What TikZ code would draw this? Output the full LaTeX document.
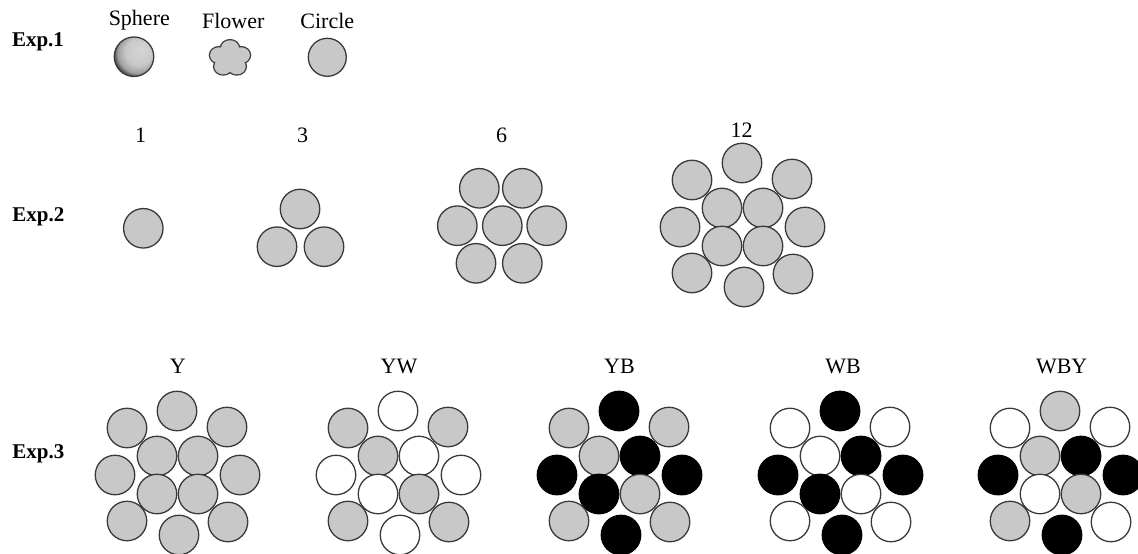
\documentclass[tikz,border=0pt]{standalone}
\usepackage{fontspec}
\setmainfont{Liberation Serif}
\definecolor{fillgray}{RGB}{200,200,200}
\definecolor{edgegray}{RGB}{58,58,58}
\pgfdeclareradialshading{sph}{\pgfpoint{10bp}{10bp}}{%
  color(0bp)=(fillgray!75!white); color(17bp)=(fillgray); color(25bp)=(fillgray!80!black);
  color(29bp)=(black!70); color(33bp)=(black); color(45bp)=(black)}
\tikzset{
  ball/.style={circle, minimum size=39.5pt, inner sep=0pt, line width=1.3pt, draw=edgegray},
  cg/.style={ball, fill=fillgray},
  cw/.style={ball, fill=white},
  ck/.style={ball, fill=black, draw=black},
  lab/.style={inner sep=0pt, font=\fontsize{22}{26}\selectfont},
  explab/.style={inner sep=0pt, font=\fontsize{21}{25}\selectfont\bfseries},
}
\newcommand{\clus}[4]{%
  \foreach [count=\i] \s in {#4}{%
    \pgfmathsetmacro{\dx}{{-1,-51,49,-21,20,-63,62,-21,20,-51,1,50}[\i-1]}%
    \pgfmathsetmacro{\dy}{{-64,-47,-48,-19,-19,0,0,19,19,46,60,47}[\i-1]}%
    \node[\s] (#1-\i) at (#2+\dx,#3+\dy) {};
  }%
}
\begin{document}
\begin{tikzpicture}[x=1pt,y=-1pt]
\useasboundingbox (0,0) rectangle (1138,554);
% Exp.1
\node[explab] (e1) at (38,42.3) {Exp.1};
\node[lab] (lsph) at (139.3,20.7) {Sphere};
\node[lab] (lflo) at (233.3,20.5) {Flower};
\node[lab] (lcir) at (327.3,20.7) {Circle};
\node[ball, shade, shading=sph] (sphere) at (134,56.7) {};
\coordinate (flower) at (230,58.3);
\begin{scope}[shift={(flower)}, yscale=0.88]
  \foreach \a in {-90,-18,54,126,198}
    \draw[line width=2.6pt, draw=edgegray] (\a:11.5) circle[radius=9];
  \foreach \a in {-90,-18,54,126,198}
    \fill[fillgray] (\a:11.5) circle[radius=9];
  \fill[fillgray] (0,0) circle[radius=8];
\end{scope}
\node[cg, minimum size=38pt] (circ) at (327.3,57.3) {};
% Exp.2
\node[explab] (e2) at (38.3,216.7) {Exp.2};
\node[lab] (l1) at (140.7,135.5) {1};
\node[lab] (l3) at (302.7,135.5) {3};
\node[lab] (l6) at (501.7,135.5) {6};
\node[lab] (l12) at (741.5,130) {12};
\node[cg] (one) at (143.3,228.3) {};
\node[cg] (three-1) at (300,209) {};
\node[cg] (three-2) at (277,246.7) {};
\node[cg] (three-3) at (324,246.7) {};
\node[cg] (six-1) at (479.3,188.3) {};
\node[cg] (six-2) at (522.3,188.3) {};
\node[cg] (six-3) at (457.3,225.7) {};
\node[cg] (six-4) at (502.3,225.7) {};
\node[cg] (six-5) at (546.7,225.7) {};
\node[cg] (six-6) at (476,263.3) {};
\node[cg] (six-7) at (522.3,263.3) {};
\clus{twelve}{743}{227}{cg,cg,cg,cg,cg,cg,cg,cg,cg,cg,cg,cg}
% Exp.3
\node[explab] (e3) at (38.3,453.7) {Exp.3};
\node[lab] (ly) at (177.7,366.3) {Y};
\node[lab] (lyw) at (399,366.3) {YW};
\node[lab] (lyb) at (619.5,366.3) {YB};
\node[lab] (lwb) at (843,366.3) {WB};
\node[lab] (lwby) at (1061.7,366.3) {WBY};
\clus{y}{178}{475}{cg,cg,cg,cg,cg,cg,cg,cg,cg,cg,cg,cg}
\clus{yw}{399}{475}{cw,cg,cg,cg,cw,cw,cw,cw,cg,cg,cw,cg}
\clus{yb}{620}{475}{ck,cg,cg,cg,ck,ck,ck,ck,cg,cg,ck,cg}
\clus{wb}{841}{475}{ck,cw,cw,cw,ck,ck,ck,ck,cw,cw,ck,cw}
\clus{wby}{1061}{475}{cg,cw,cw,cg,ck,ck,ck,cw,cg,cg,ck,cw}
\end{tikzpicture}
\end{document}
